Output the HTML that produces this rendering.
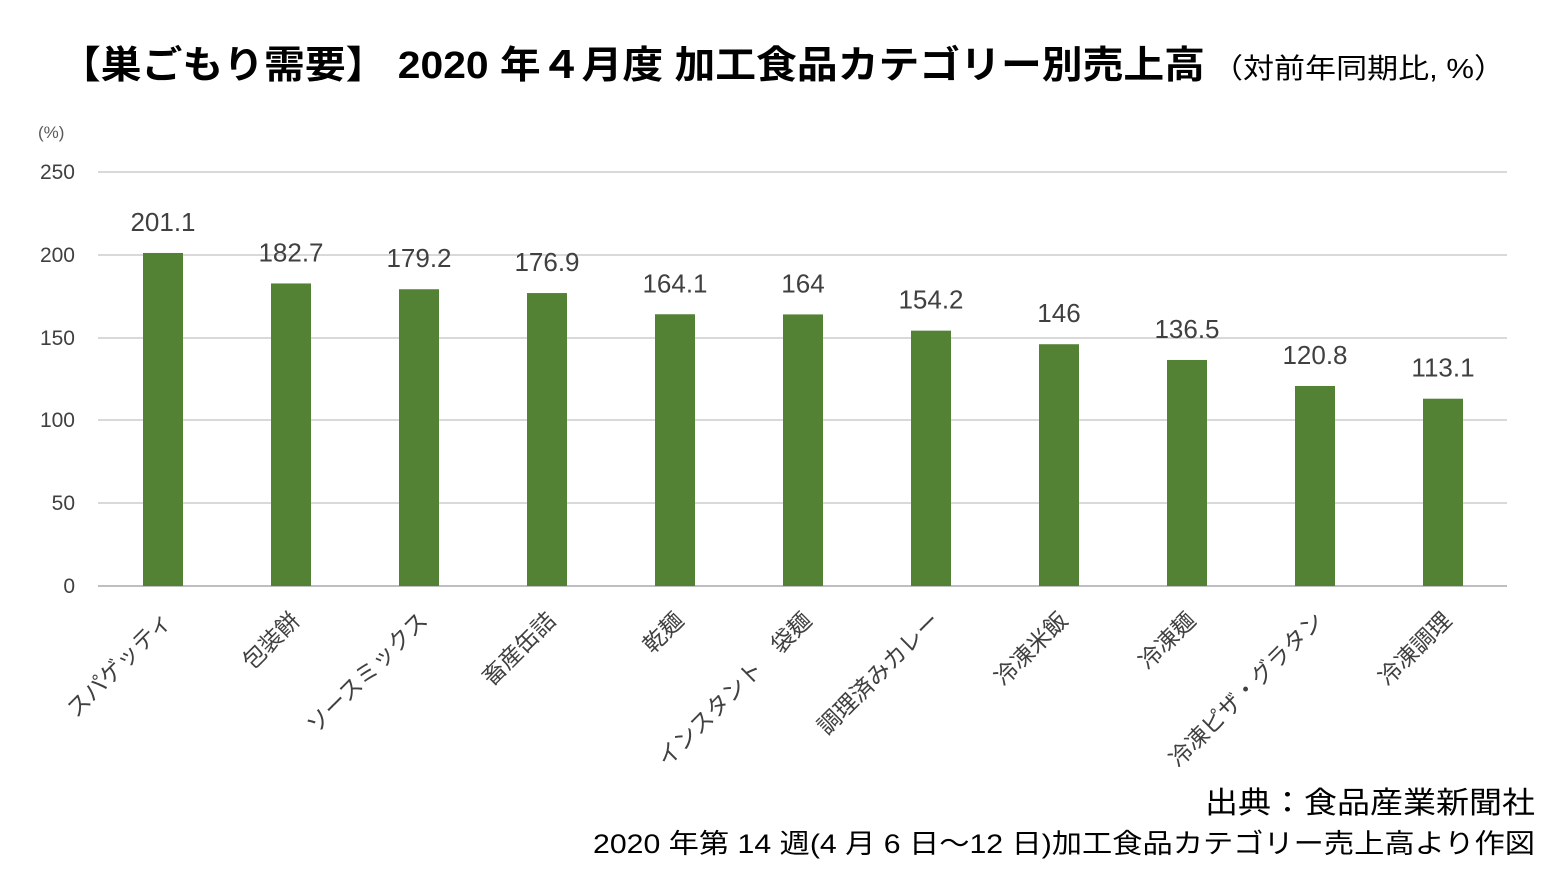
<!DOCTYPE html>
<html><head><meta charset="utf-8"><style>
html,body{margin:0;padding:0;background:#fff;}
svg{display:block;font-family:"Liberation Sans","Noto Sans CJK JP",sans-serif;}
</style></head><body>
<svg width="1560" height="875" viewBox="0 0 1560 875" xmlns="http://www.w3.org/2000/svg">
<text x="60" y="78" font-size="38" font-weight="bold" fill="#000" textLength="1145" lengthAdjust="spacingAndGlyphs">【巣ごもり需要】 2020 年４月度 加工食品カテゴリー別売上高</text>
<text x="1212" y="78" font-size="28" fill="#000" textLength="293" lengthAdjust="spacingAndGlyphs">（対前年同期比, %）</text>
<text x="38" y="138" font-size="17" fill="#595959">(%)</text>
<g stroke="#d9d9d9" stroke-width="2">
<line x1="98" x2="1507" y1="172" y2="172"/>
<line x1="98" x2="1507" y1="255" y2="255"/>
<line x1="98" x2="1507" y1="338" y2="338"/>
<line x1="98" x2="1507" y1="420" y2="420"/>
<line x1="98" x2="1507" y1="503" y2="503"/>
<line x1="98" x2="1507" y1="586" y2="586" stroke="#bfbfbf"/>
</g>
<g font-size="21" fill="#404040" text-anchor="end">
<text x="75" y="179">250</text><text x="75" y="262">200</text><text x="75" y="345">150</text>
<text x="75" y="427">100</text><text x="75" y="510">50</text><text x="75" y="593">0</text>
</g>
<g id="bars" fill="#548235"></g>
<g id="vals" font-size="26" fill="#404040" text-anchor="middle"></g>
<g id="cats" font-size="23" fill="#404040" text-anchor="end"></g>
<text x="1205" y="813" font-size="30" fill="#000" textLength="330" lengthAdjust="spacingAndGlyphs">出典：食品産業新聞社</text>
<text x="593" y="853" font-size="27" fill="#000" textLength="942" lengthAdjust="spacingAndGlyphs">2020 年第 14 週(4 月 6 日～12 日)加工食品カテゴリー売上高より作図</text>
</svg>
<script>
var d=[["スパゲッティ",201.1],["包装餅",182.7],["ソースミックス",179.2],["畜産缶詰",176.9],["乾麺",164.1],["インスタント　袋麺",164],["調理済みカレー",154.2],["冷凍米飯",146],["冷凍麺",136.5],["冷凍ピザ・グラタン",120.8],["冷凍調理",113.1]];
var ns="http://www.w3.org/2000/svg";
function el(t,a,p,txt){var e=document.createElementNS(ns,t);for(var k in a)e.setAttribute(k,a[k]);if(txt!=null)e.textContent=txt;document.getElementById(p).appendChild(e);}
d.forEach(function(r,i){var cx=163+128*i;var y=586-r[1]*414/250;
el("rect",{x:cx-20,y:y,width:40,height:586-y},"bars");
el("text",{x:cx,y:y-22},"vals",String(r[1]));
el("text",{x:cx+10,y:622,transform:"rotate(-45 "+(cx+10)+" 622)"},"cats",r[0]);});
</script>
</body></html>
